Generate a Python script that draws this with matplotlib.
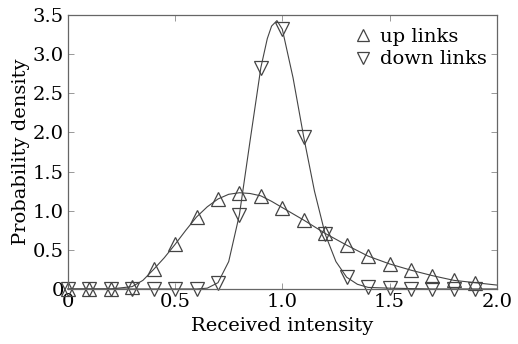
import matplotlib
matplotlib.use("Agg")
import matplotlib.pyplot as plt

plt.rcParams["font.family"] = ["DejaVu Serif"]
plt.rcParams["mathtext.fontset"] = "dejavuserif"

# marker samples
x_pts = [0.0, 0.1, 0.2, 0.3, 0.4, 0.5, 0.6, 0.7, 0.8, 0.9,
         1.0, 1.1, 1.2, 1.3, 1.4, 1.5, 1.6, 1.7, 1.8, 1.9]
up_pts = [0.0, 0.0, 0.0, 0.03, 0.25, 0.57, 0.92, 1.15, 1.23, 1.19,
          1.04, 0.88, 0.71, 0.56, 0.42, 0.32, 0.24, 0.17, 0.11, 0.08]
down_pts = [0.0, 0.0, 0.0, 0.0, 0.0, 0.0, 0.0, 0.08, 0.95, 2.83,
            3.32, 1.94, 0.70, 0.15, 0.02, 0.01, 0.0, 0.0, 0.0, 0.0]

# fitted curves
up_cx = [0.0, 0.1, 0.2, 0.3, 0.35, 0.4, 0.45, 0.5, 0.55, 0.6, 0.65, 0.7, 0.75, 0.8,
         0.85, 0.9, 0.95, 1.0, 1.1, 1.2, 1.3, 1.4, 1.5, 1.6, 1.7, 1.8, 1.9, 2.0]
up_cy = [0.0, 0.0, 0.0, 0.03, 0.11, 0.25, 0.40, 0.57, 0.75, 0.92, 1.05, 1.15, 1.21, 1.23,
         1.22, 1.19, 1.12, 1.04, 0.88, 0.71, 0.56, 0.42, 0.32, 0.24, 0.17, 0.11, 0.08, 0.05]
down_cx = [0.0, 0.6, 0.65, 0.7, 0.75, 0.8, 0.85, 0.9, 0.93, 0.95, 0.975, 1.0, 1.05,
           1.1, 1.15, 1.2, 1.25, 1.3, 1.35, 1.4, 1.5, 1.7, 2.0]
down_cy = [0.0, 0.0, 0.01, 0.08, 0.35, 0.95, 1.90, 2.83, 3.20, 3.36, 3.43, 3.32, 2.70,
           1.94, 1.25, 0.70, 0.35, 0.15, 0.06, 0.02, 0.01, 0.0, 0.0]

x_ticks = [0, 0.5, 1.0, 1.5, 2.0]
x_labels = ["0", "0.5", "1.0", "1.5", "2.0"]
y_ticks = [0, 0.5, 1.0, 1.5, 2.0, 2.5, 3.0, 3.5]
y_labels = ["0", "0.5", "1.0", "1.5", "2.0", "2.5", "3.0", "3.5"]

edge = "#444444"
fig = plt.figure(figsize=(5.18, 3.44), dpi=100)
ax = fig.add_axes([0.131, 0.160, 0.828, 0.796])

ax.plot(up_cx, up_cy, color=edge, lw=0.8, clip_on=False)
ax.plot(down_cx, down_cy, color=edge, lw=0.8, clip_on=False)
ax.plot(x_pts, up_pts, ls="none", marker="^", ms=10, mfc="none", mec=edge, mew=0.9,
        clip_on=False, label="up links")
ax.plot(x_pts, down_pts, ls="none", marker="v", ms=10, mfc="none", mec=edge, mew=0.9,
        clip_on=False, label="down links")

ax.set_xlim(0, 2.0)
ax.set_ylim(0, 3.5)
ax.set_xticks(x_ticks, x_labels)
ax.set_yticks(y_ticks, y_labels)
ax.tick_params(direction="in", length=4, width=0.6, color="#888888", labelsize=14,
               top=True, right=True, pad=3)
for s in ax.spines.values():
    s.set_color("#666666")
    s.set_linewidth(0.9)

ax.set_xlabel("Received intensity", fontsize=14, labelpad=4)
ax.set_ylabel("Probability density", fontsize=14, labelpad=2)

ax.legend(loc="upper right", frameon=False, fontsize=14, handletextpad=0.4,
          handlelength=1.0, borderaxespad=0.1, labelspacing=0.25, markerscale=0.85,
          bbox_to_anchor=(1.0, 0.99))

fig.savefig("out.png", dpi=100)
